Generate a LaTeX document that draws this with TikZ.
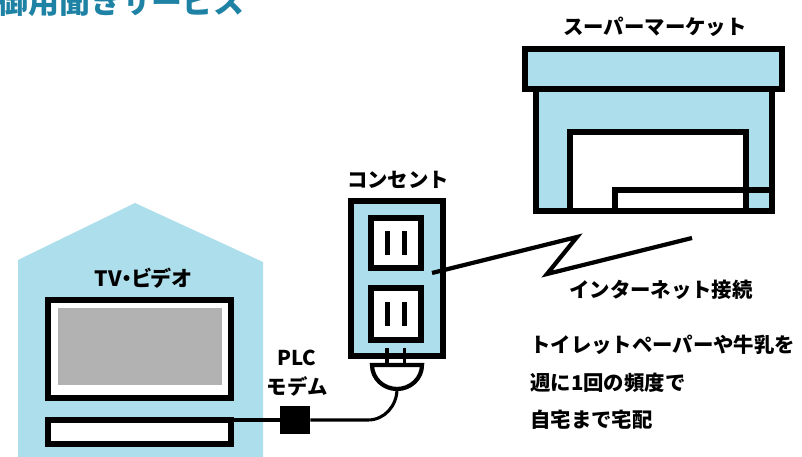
\documentclass[tikz,border=0pt]{standalone}
\usepackage{fontspec}
\usetikzlibrary{positioning, fit, calc}
\newfontfamily\jpfont{Noto Sans CJK JP}
\newfontfamily\jppropfont[RawFeature=+palt]{Noto Sans CJK JP}
\definecolor{wallBlue}{RGB}{172, 222, 235}
\definecolor{titleTeal}{RGB}{30, 130, 165}
\definecolor{screenGray}{RGB}{178, 178, 178}

\begin{document}
\begin{tikzpicture}[
        x=0.025cm, y=-0.025cm,
        font=\jpfont\bfseries\fontsize{14.5}{21}\selectfont,
        frame/.style={draw, line width=4pt, inner sep=0pt},
        thin frame/.style={draw, line width=3pt, inner sep=0pt},
        slot/.style={fill, inner sep=0pt, minimum width=0.12cm, minimum height=0.6cm},
        cable/.style={line width=2.2pt},
        lbl/.style={inner sep=0pt, align=center}
    ]
    \useasboundingbox (0,0) rectangle (802,457);
    \clip (0,0) rectangle (802,457);

    % heading, cut at the top edge
    \node[inner sep=0pt, anchor=base west, text=titleTeal,
        font=\jpfont\bfseries\fontsize{22}{26}\selectfont] (title) at (-3,14) {御用聞きサービス};

    % home
    \fill[wallBlue] (18,457) -- (18,260) -- (135,203) -- (263,262) -- (263,457) -- cycle;
    \node[lbl, font=\jppropfont\bfseries\fontsize{15}{21}\selectfont] (tvlabel) at (143,278) {TV・ビデオ};
    \node[frame, fill=white, fit={(48,300) (231,398)}] (tv) {};
    \node[fill=screenGray, inner sep=0pt, fit={(58,308) (222,385)}] (screen) {};
    \node[frame, fill=white, fit={(48,420) (231,444)}] (vcr) {};

    % wall socket
    \node[lbl] (socketlabel) at (398,180) {コンセント};
    \node[frame, fill=wallBlue, fit={(351,201) (443,356)}] (socket) {};
    \node[frame, fill=white, fit={(371,218) (421,268)}] (upper) {};
    \node[frame, fill=white, fit={(371,288) (421,340)}] (lower) {};
    \foreach \s in {upper, lower} {
        \node[slot] at ($(\s.center)+(-8.5,0)$) {};
        \node[slot] at ($(\s.center)+(8.5,0)$) {};
    }

    % plug under the socket
    \draw[line width=2.5pt] (387,348) -- (387,366) (404.5,348) -- (404.5,366);
    \draw[thin frame, fill=white] (372,365) -- (422,365) arc[start angle=0, end angle=180, x radius=25, y radius=24] -- cycle;
    \coordinate (plug) at (397,389);

    % PLC modem and its cable
    \node[lbl] (plclabel) at (297,373) {PLC\\モデム};
    \node[fill, inner sep=0pt, fit={(280,406) (310,434)}] (modem) {};
    \coordinate (bend) at (368,420);
    \draw[cable] (modem.west) -- (modem.west -| vcr.east);
    \draw[cable] (modem.east) -- (bend) to[out=0, in=-90] (plug);

    % supermarket
    \node[lbl] (shoplabel) at (655,27) {スーパーマーケット};
    \node[frame, fill=wallBlue, fit={(536,89) (772,211)}] (shop) {};
    \node[frame, fill=white, fit={(570,132) (746,211)}] (door) {};
    \node[frame, fit={(615,190) (772,211)}] (counter) {};
    \node[frame, fill=wallBlue, fit={(525,49) (782,89)}] (roof) {};

    % internet link
    \coordinate (jack) at (432,273);
    \coordinate (linkend) at (692,238);
    \draw[line width=3pt] (jack) -- (577,237) -- (547,274) -- (linkend);
    \node[lbl] (netlabel) at (661,290) {インターネット接続};

    \node[inner sep=0pt, align=left, anchor=north west,
        font=\jpfont\bfseries\fontsize{14.5}{26.6}\selectfont] (note) at (530,335)
        {トイレットペーパーや牛乳を\\週に1回の頻度で\\自宅まで宅配};
\end{tikzpicture}
\end{document}
